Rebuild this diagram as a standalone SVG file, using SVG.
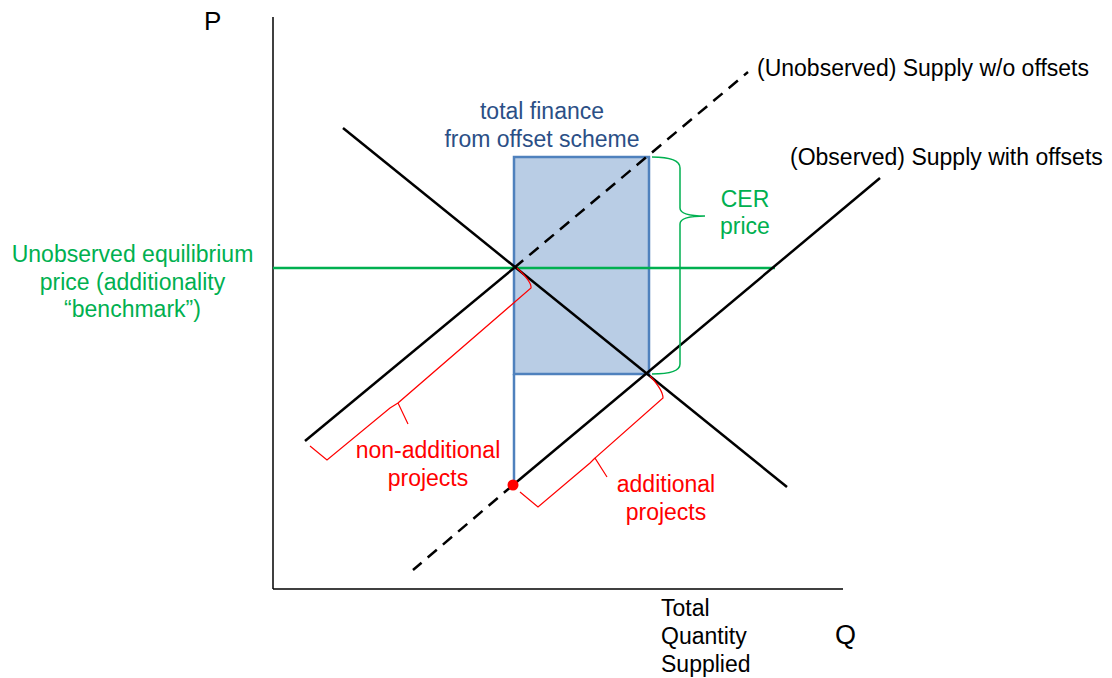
<svg xmlns="http://www.w3.org/2000/svg" width="1112" height="678" viewBox="0 0 1112 678">
<style>
text{font-family:"Liberation Sans",Arial,sans-serif;font-size:23px}
.k{fill:#000}
.g{fill:#00B050}
.r{fill:#FF0000}
.b{fill:#2B4F86}
.ln{stroke:#000;stroke-width:2.5;fill:none}
.dash{stroke:#000;stroke-width:2.5;fill:none;stroke-dasharray:12,8}
.brg{stroke:#00B050;stroke-width:1.5;fill:none}
.brr{stroke:#FF0000;stroke-width:1.2;fill:none}
</style>
<rect width="1112" height="678" fill="#fff"/>
<g id="axes">
<line x1="273" y1="17" x2="273" y2="589" stroke="#000" stroke-width="1.5"/>
<line x1="273" y1="589" x2="843" y2="589" stroke="#000" stroke-width="1.5"/>
<text x="204" y="30" class="k" style="font-size:26px">P</text>
<text x="835" y="644" class="k" style="font-size:27px">Q</text>
<text x="661" y="616" class="k">Total</text>
<text x="661" y="644" class="k">Quantity</text>
<text x="661" y="672" class="k">Supplied</text>
</g>
<g id="finance-box">
<rect x="514" y="157" width="135" height="217" fill="#B9CDE5" stroke="#4F81BD" stroke-width="2.5"/>
<line x1="514" y1="374" x2="514" y2="485" stroke="#4F81BD" stroke-width="2.5"/>
<text x="542" y="119" text-anchor="middle" class="b">total finance</text>
<text x="542" y="147" text-anchor="middle" class="b">from offset scheme</text>
</g>
<g id="benchmark">
<line x1="273" y1="268" x2="775" y2="268" stroke="#00B050" stroke-width="2.5"/>
<text x="132.5" y="262" text-anchor="middle" class="g">Unobserved equilibrium</text>
<text x="132.5" y="290" text-anchor="middle" class="g">price (additionality</text>
<text x="132.5" y="317" text-anchor="middle" class="g">“benchmark”)</text>
</g>
<g id="connectors">
<line class="ln" x1="343" y1="128" x2="787" y2="487"/>
<line class="ln" x1="305" y1="441" x2="514" y2="268"/>
<line class="dash" x1="514" y1="268" x2="748" y2="72"/>
<line class="ln" x1="513" y1="485" x2="880" y2="178"/>
<line class="dash" x1="513" y1="485" x2="413" y2="570"/>
</g>
<g id="supply-labels">
<text x="757" y="76" class="k">(Unobserved) Supply w/o offsets</text>
<text x="790" y="165" class="k">(Observed) Supply with offsets</text>
</g>
<g id="cer-price">
<path class="brg" d="M652,157 Q680,157 680,168 L680,208 Q680,216 705,216 Q680,216 680,224 L680,364 Q680,374 652,374"/>
<text x="745" y="207" text-anchor="middle" class="g">CER</text>
<text x="745" y="234" text-anchor="middle" class="g">price</text>
</g>
<g id="non-additional">
<path class="brr" d="M517,268 Q532,282 531,288 L398,403 L408,424 M398,403 L390,408 L327,460 L310,446"/>
<text x="428" y="458" text-anchor="middle" class="r">non-additional</text>
<text x="428" y="486" text-anchor="middle" class="r">projects</text>
</g>
<g id="additional">
<path class="brr" d="M650,376 Q663,390 663,398 L595,458 L607,477 M595,458 L590,463 L538,507 L520,492"/>
<text x="666" y="492" text-anchor="middle" class="r">additional</text>
<text x="666" y="520" text-anchor="middle" class="r">projects</text>
</g>
<g id="point">
<circle cx="513" cy="485" r="5.5" fill="#FF0000"/>
</g>
</svg>
